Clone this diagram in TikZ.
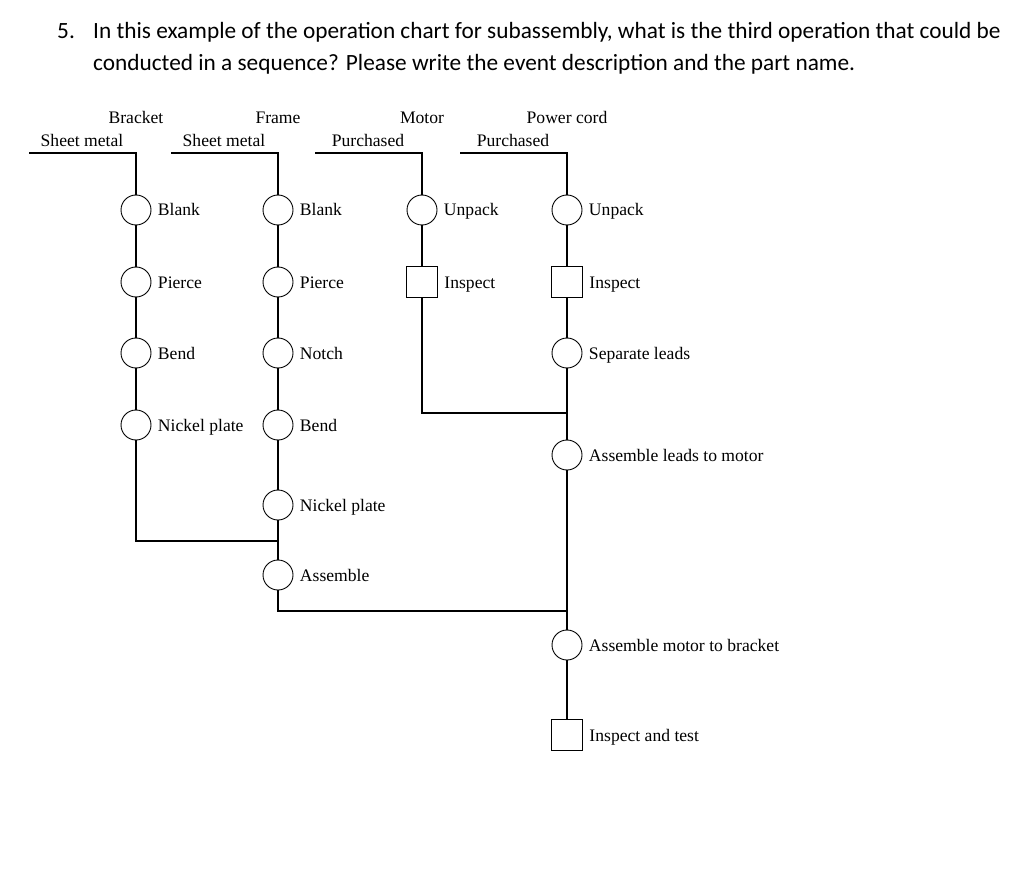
\documentclass[tikz,border=0pt]{standalone}
\usepackage{fontspec}
\setmainfont{Liberation Serif}
\newfontfamily\headfont{Carlito}
\usetikzlibrary{positioning}

\begin{document}
\begin{tikzpicture}[x=1pt,y=-1pt,
  op/.style={circle, draw, line width=0.9pt, minimum size=30pt, inner sep=0pt},
  insp/.style={rectangle, draw, line width=0.9pt, minimum size=31pt, inner sep=0pt},
  flow/.style={line width=1.8pt},
  txt/.style={font=\fontsize{17.6}{20}\selectfont},
  head/.style={txt, text height=12pt, text depth=0pt},
  oplabel/.style={txt, label distance=3pt, text height=16pt, text depth=4pt},
  qtext/.style={anchor=base west, inner sep=0pt, font=\headfont\fontsize{23.3}{26}\selectfont}]
\useasboundingbox (0,0) rectangle (1024,882);

% Question
\node[qtext] (qnum) at (57,39) {5.};
\node[qtext] (qline1) at (93,39) {In this example of the operation chart for subassembly, what is the third operation that could be};
\node[qtext] (qline2) at (93,71) {conducted in a sequence? Please write the event description and the part name.};

% Part names and materials
\node[head] (bracket) at (136,118) {Bracket};
\node[head] (frame) at (278,118) {Frame};
\node[head] (motor) at (422,118) {Motor};
\node[head] (cord) at (567,118) {Power cord};
\node[head] (bmat) at (82,141) {Sheet metal};
\node[head] (fmat) at (224,141) {Sheet metal};
\node[head] (mmat) at (368,141) {Purchased};
\node[head] (cmat) at (513,141) {Purchased};

% Start of each line
\coordinate (bS) at (29,153);
\coordinate (fS) at (171,153);
\coordinate (mS) at (315,153);
\coordinate (cS) at (460,153);

% Bracket
\foreach \y/\t [count=\i] in {210/Blank, 282/Pierce, 353/Bend, 425/Nickel plate}
  \node[op, label={[oplabel]right:\t}] (b\i) at (136,\y) {};

% Frame
\foreach \y/\t [count=\i] in {210/Blank, 282/Pierce, 353/Notch, 425/Bend, 505/Nickel plate, 575/Assemble}
  \node[op, label={[oplabel]right:\t}] (f\i) at (278,\y) {};

% Motor
\node[op, label={[oplabel]right:Unpack}] (m1) at (422,210) {};
\node[insp, label={[oplabel]right:Inspect}] (m2) at (422,282) {};

% Power cord
\node[op, label={[oplabel]right:Unpack}] (c1) at (567,210) {};
\node[insp, label={[oplabel]right:Inspect}] (c2) at (567,282) {};
\node[op, label={[oplabel]right:Separate leads}] (c3) at (567,353) {};
\node[op, label={[oplabel]right:Assemble leads to motor}] (c4) at (567,455) {};
\node[op, label={[oplabel]right:Assemble motor to bracket}] (c5) at (567,645) {};
\node[insp, label={[oplabel]right:Inspect and test}] (c6) at (567,735) {};

% Joins
\coordinate (bJ) at (136,541);
\coordinate (fJ) at (278,541);
\coordinate (mJ) at (422,413);
\coordinate (cJ) at (567,413);
\coordinate (fK) at (278,611);
\coordinate (cK) at (567,611);

% Flow lines
\draw[flow] (bS) -| (b1);
\draw[flow] (fS) -| (f1);
\draw[flow] (mS) -| (m1);
\draw[flow] (cS) -| (c1);
\draw[flow] (b1) -- (b2) -- (b3) -- (b4) -- (bJ) -- (fJ);
\draw[flow] (f1) -- (f2) -- (f3) -- (f4) -- (f5) -- (f6) -- (fK) -- (cK);
\draw[flow] (m1) -- (m2) -- (mJ) -- (cJ);
\draw[flow] (c1) -- (c2) -- (c3) -- (c4) -- (c5) -- (c6);
\end{tikzpicture}
\end{document}
